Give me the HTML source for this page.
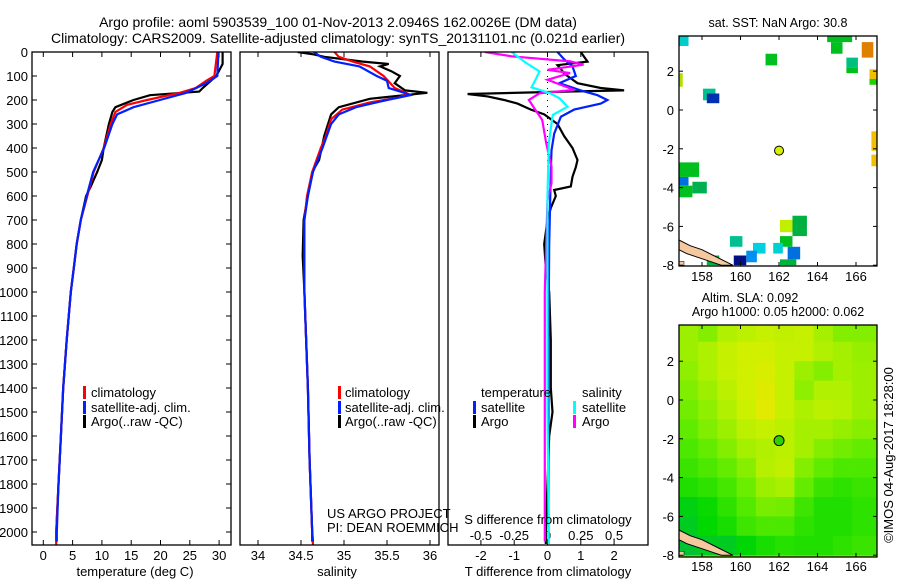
<!DOCTYPE html>
<html><head><meta charset="utf-8">
<style>
html,body{margin:0;padding:0;background:#fff;}
svg{display:block;font-family:"Liberation Sans",sans-serif;}
text{fill:#000;}
</style></head>
<body>
<svg id="fig" width="900" height="580" viewBox="0 0 900 580" xmlns="http://www.w3.org/2000/svg">
<defs>
<clipPath id="c1"><rect x="32" y="52" width="199" height="493"/></clipPath>
<clipPath id="c2"><rect x="240" y="52" width="199" height="493"/></clipPath>
<clipPath id="c3"><rect x="448" y="52" width="200" height="493"/></clipPath>
<clipPath id="cm1"><rect x="679" y="36" width="198" height="230"/></clipPath>
<clipPath id="cm2"><rect x="679" y="325" width="198" height="232"/></clipPath>
</defs>
<text x="338" y="27" font-size="14" text-anchor="middle">Argo profile: aoml 5903539_100 01-Nov-2013 2.0946S 162.0026E (DM data)</text>
<text x="338" y="43" font-size="14" text-anchor="middle">Climatology: CARS2009. Satellite-adjusted climatology: synTS_20131101.nc (0.021d earlier)</text>
<g id="g1"></g>
<g id="g2"></g>
<g id="g3"></g>
<g id="gm1"></g>
<g id="gm2"></g>
<text x="893" y="455" font-size="13" text-anchor="middle" transform="rotate(-90 893 455)">©IMOS 04-Aug-2017 18:28:00</text>
</svg>
<script>
// ---- data ----
const tempClimDepth = [0,100,120,150,170,200,220,250,300,400,500,600,700,800,900,1000,1200,1400,1600,1800,2000,2055];
const tempClimVal = [29.7,29.2,27.8,26,23.3,17.7,14.3,12.3,11.5,10.3,8.6,7.5,6.4,5.7,5.2,4.7,4.0,3.4,3.0,2.6,2.2,2.2];
const tempSatDepth = [0,100,130,170,200,230,260,300,400,500,600,700,800,900,1000,1200,1400,1600,1800,2000,2040];
const tempSatVal = [29.9,29.7,27.8,24.4,19.9,15.4,12.6,11.8,10.4,8.5,7.4,6.4,5.7,5.2,4.7,4.0,3.4,3.0,2.6,2.3,2.3];
const tempArgoDepth = [0,50,100,150,165,180,200,230,250,300,400,450,500,560,600,700,800,900,1000,1200,1400,1600,1800,2000,2040];
const tempArgoVal = [30.6,30.6,29.5,27.2,26.6,18.2,15.4,12.3,11.8,11.2,10.3,10.0,9.2,8.1,7.3,6.4,5.7,5.2,4.7,4.0,3.4,3.0,2.6,2.2,2.2];

const salClimDepth = [0,20,40,60,100,150,175,190,210,240,280,350,400,500,600,700,1000,1400,1700,2000,2055];
const salClimVal = [34.89,34.94,35.1,35.3,35.46,35.59,35.75,35.63,35.3,34.98,34.85,34.79,34.73,34.63,34.57,34.54,34.54,34.58,34.6,34.63,34.64];
const salSatDepth = [0,20,40,60,100,120,150,170,180,200,230,260,300,400,500,600,700,1000,1400,1700,2000,2040];
const salSatVal = [34.65,34.73,34.89,35.18,35.38,35.5,35.52,35.7,35.77,35.5,35.14,34.94,34.85,34.75,34.64,34.58,34.54,34.54,34.58,34.6,34.63,34.64];
const salArgoDepth = [0,10,20,40,50,60,80,100,130,160,170,180,195,230,260,350,450,500,580,700,850,1000,1400,1700,2000,2040];
const salArgoVal = [34.46,34.65,34.77,35.22,35.52,35.42,35.55,35.65,35.59,35.71,35.97,35.7,35.3,34.94,34.85,34.77,34.71,34.63,34.59,34.53,34.52,34.54,34.58,34.6,34.63,34.63];

const dTArgoDepth = [0,20,40,55,70,90,110,130,150,160,165,175,185,200,215,240,260,300,350,400,450,480,520,560,575,600,650,700,800,900,1000,1200,1400,1500,1600,1800,2000,2050];
const dTArgoVal = [1.0,1.1,1.2,0.3,0.4,0.5,0.7,0.9,1.6,2.3,0.5,-2.4,-1.8,-1.3,-0.9,-0.5,-0.1,0.3,0.5,0.75,0.9,0.85,0.75,0.7,0.2,0.25,0.1,0.0,-0.1,-0.05,0.05,0.1,0.1,0.15,0.05,0.0,-0.05,-0.05];
const dTSatDepth = [0,30,60,100,130,160,180,200,215,240,270,340,410,500,800,1200,2050];
const dTSatVal = [0.3,0.5,0.75,0.85,0.35,1.0,1.5,1.8,1.6,0.8,0.4,0.2,0.12,0.1,0.05,0.03,0.03];
const dSSatDepth = [0,46,81,116,147,172,193,228,262,297,380,600,1000,1500,2050];
const dSSatVal = [-0.27,-0.16,-0.06,-0.09,-0.12,0.02,0.09,0.15,0.04,0.03,0.01,0.0,0.0,0.0,0.01];
const dSArgoDepth = [0,18,39,53,74,88,116,158,172,200,242,283,380,477,547,617,1000,1500,2000,2040];
const dSArgoVal = [-0.47,-0.27,0.17,0.27,0.0,0.17,0.0,0.2,-0.06,-0.14,-0.09,-0.04,-0.01,0.03,0.03,0.0,-0.02,-0.02,-0.02,-0.02];

const depthTicks = [0,100,200,300,400,500,600,700,800,900,1000,1100,1200,1300,1400,1500,1600,1700,1800,1900,2000];
const tempTicks = [0,5,10,15,20,25,30];
const salTicks = [34,34.5,35,35.5,36];
const salTickLabels = ["34","34.5","35","35.5","36"];
const dTTicks = [-2,-1,0,1,2];
const dSTicks = [-0.5,-0.25,0,0.25,0.5];
const dSTickLabels = ["-0.5","-0.25","0","0.25","0.5"];

const lonTicks = [158,160,162,164,166];
const latTicks = [2,0,-2,-4,-6,-8];
const floatLon = 162.0026, floatLat = -2.0946;
const sstCellLon0 = [156.8,164.5,164.7,166.3,161.3,165.5,165.5,166.7,166.7,156.8,158.05,158.25,166.8,166.8,156.8,156.8,156.8,157.5,162.05,162.7,159.45,162.05,160.65,161.7,162.45,160.3,159.65,158.25,162.05];
const sstCellLat0 = [3.8,3.8,3.5,3.5,2.9,2.7,2.2,2.1,1.6,1.9,1.1,0.85,-1.1,-2.3,-2.7,-3.45,-3.9,-3.7,-5.67,-5.45,-6.5,-6.5,-6.85,-6.85,-7.05,-7.25,-7.5,-7.5,-7.7];
const sstCellLon1 = [157.3,165.8,165.3,166.9,161.9,166.1,166.1,167.1,167.1,157.0,158.7,158.9,167.1,167.1,157.85,157.3,157.5,158.25,162.7,163.45,160.1,162.7,161.3,162.2,163.1,160.85,160.3,158.9,162.9];
const sstCellLat1 = [3.3,3.5,2.9,2.7,2.3,2.2,1.9,1.6,1.3,1.2,0.5,0.35,-2.1,-2.9,-3.45,-3.9,-4.5,-4.3,-6.3,-6.5,-7.05,-7.05,-7.4,-7.4,-7.7,-7.85,-8,-8,-8];
const sstCellColor = ["#00cccc","#00c020","#00c020","#e08000","#00c020","#00c080","#00c020","#f0c000","#20d000","#b0e000","#00c090","#0030b0","#f0c000","#f0c000","#00c020","#0070e0","#00c020","#00b050","#c0f000","#00b040","#00c090","#00c020","#00d0e0","#00d0d0","#0070e0","#0090f0","#001080","#00b040","#00b040"];
const slaLats = [3.5,2.5,1.5,0.5,-0.5,-1.5,-2.5,-3.5,-4.5,-5.5,-6.5,-7.5];
const slaLons = [157.3,158.3,159.3,160.3,161.3,162.3,163.3,164.3,165.3,166.3];
const slaRow0 = [0.72,0.65,0.78,0.82,0.86,0.84,0.86,0.74,0.65,0.65];
const slaRow1 = [0.72,0.77,0.86,0.9,0.9,0.86,0.86,0.78,0.74,0.7];
const slaRow2 = [0.68,0.77,0.86,0.9,0.93,0.86,0.72,0.65,0.74,0.72];
const slaRow3 = [0.64,0.72,0.82,0.9,0.96,0.86,0.68,0.78,0.78,0.72];
const slaRow4 = [0.6,0.68,0.78,0.88,0.97,0.86,0.77,0.82,0.8,0.72];
const slaRow5 = [0.55,0.64,0.72,0.82,0.86,0.82,0.74,0.74,0.7,0.66];
const slaRow6 = [0.5,0.56,0.65,0.74,0.78,0.82,0.74,0.65,0.6,0.56];
const slaRow7 = [0.45,0.5,0.56,0.66,0.8,0.84,0.65,0.55,0.5,0.5];
const slaRow8 = [0.38,0.42,0.48,0.58,0.72,0.75,0.56,0.45,0.42,0.45];
const slaRow9 = [0.25,0.32,0.42,0.52,0.62,0.6,0.46,0.38,0.38,0.42];
const slaRow10 = [0.2,0.3,0.36,0.46,0.5,0.5,0.42,0.38,0.38,0.42];
const slaRow11 = [0.15,0.2,0.2,0.28,0.36,0.4,0.38,0.38,0.42,0.45];

// ---- helpers ----
const NS = "http://www.w3.org/2000/svg";
function mk(tag, attrs, parent){
  const e = document.createElementNS(NS, tag);
  for (const k in attrs) e.setAttribute(k, attrs[k]);
  parent.appendChild(e);
  return e;
}
const yD = d => 52 + d*0.24;
const xT = t => 43.3 + t*5.86;
const xS = s => 258 + (s-34)*86;
const xDT = v => 547.5 + v*33.3;
const xDS = v => 547.5 + v*133.2;
const mLonX = lon => 702 + (lon-158)*19.25;
const m1LatY = lat => 110 - lat*19.4;
const m2LatY = lat => 400 - lat*19.4;

function frame(g, x, y, w, h, name){
  const r = mk("rect", {x:x, y:y, width:w, height:h, fill:"none", stroke:"#000", "stroke-width":1.3}, g);
  
  
}
function profile(g, depths, vals, xf, color, w, clip, name){
  const pts = depths.map((d,i)=> xf(vals[i]).toFixed(1)+","+yD(d).toFixed(1)).join(" ");
  const p = mk("polyline", {points:pts, fill:"none", stroke:color, "stroke-width":w, "stroke-linejoin":"miter", "clip-path":"url(#"+clip+")"}, g);
  
  
}
function txt(g, x, y, s, size, anchor, name){
  const t = mk("text", {x:x, y:y, "font-size":size, "text-anchor":anchor||"start"}, g);
  t.textContent = s;
  
  
  return t;
}
function tick(g, x1, y1, x2, y2){
  const l = mk("line", {x1:x1, y1:y1, x2:x2, y2:y2, stroke:"#000", "stroke-width":1}, g);
  
  
}
function legBar(g, x, y, color){
  const r = mk("rect", {x:x, y:y-11, width:3, height:13, fill:color}, g);
  
  
}

// ---- panel 1: temperature ----
const g1 = document.getElementById("g1");
depthTicks.forEach(d => {
  tick(g1, 32, yD(d), 37, yD(d)); tick(g1, 226, yD(d), 231, yD(d));
  txt(g1, 28, yD(d)+5, String(d), 13, "end", "depth-tick-label");
});
tempTicks.forEach(t => {
  tick(g1, xT(t), 545, xT(t), 540); tick(g1, xT(t), 52, xT(t), 57);
  txt(g1, xT(t), 560, String(t), 13, "middle", "temperature-tick-label");
});
profile(g1, tempArgoDepth, tempArgoVal, xT, "#000", 2.2, "c1", "temperature-argo-line");
profile(g1, tempClimDepth, tempClimVal, xT, "#f00", 2.2, "c1", "temperature-climatology-line");
profile(g1, tempSatDepth, tempSatVal, xT, "#0020ff", 2.2, "c1", "temperature-satellite-line");
frame(g1, 32, 52, 199, 493, "temperature-plot-frame");
txt(g1, 135, 576, "temperature (deg C)", 13, "middle", "x-axis-title-temperature");
legBar(g1, 83, 397, "#f00"); txt(g1, 91, 397, "climatology", 13, "start", "legend-entry-climatology");
legBar(g1, 83, 412, "#0020ff"); txt(g1, 91, 412, "satellite-adj. clim.", 13, "start", "legend-entry-satellite");
legBar(g1, 83, 426, "#000"); txt(g1, 91, 426, "Argo(..raw -QC)", 13, "start", "legend-entry-argo");

// ---- panel 2: salinity ----
const g2 = document.getElementById("g2");
salTicks.forEach((s,i) => {
  tick(g2, xS(s), 545, xS(s), 540); tick(g2, xS(s), 52, xS(s), 57);
  txt(g2, xS(s), 560, salTickLabels[i], 13, "middle", "salinity-tick-label");
});
profile(g2, salArgoDepth, salArgoVal, xS, "#000", 2.2, "c2", "salinity-argo-line");
profile(g2, salClimDepth, salClimVal, xS, "#f00", 2.2, "c2", "salinity-climatology-line");
profile(g2, salSatDepth, salSatVal, xS, "#0020ff", 2.2, "c2", "salinity-satellite-line");
frame(g2, 240, 52, 199, 493, "salinity-plot-frame");
txt(g2, 337, 576, "salinity", 13, "middle", "x-axis-title-salinity");
legBar(g2, 338, 397, "#f00"); txt(g2, 345, 397, "climatology", 13, "start", "legend-entry-climatology");
legBar(g2, 338, 412, "#0020ff"); txt(g2, 345, 412, "satellite-adj. clim.", 13, "start", "legend-entry-satellite");
legBar(g2, 338, 426, "#000"); txt(g2, 345, 426, "Argo(..raw -QC)", 13, "start", "legend-entry-argo");
txt(g2, 327, 518, "US ARGO PROJECT", 13, "start", "project-label");
txt(g2, 327, 532, "PI: DEAN ROEMMICH", 13, "start", "pi-label");

// ---- panel 3: differences ----
const g3 = document.getElementById("g3");
const zl = mk("line", {x1:xDT(0), y1:52, x2:xDT(0), y2:yD(1000), stroke:"#000", "stroke-width":1, "stroke-dasharray":"1 5"}, g3);


dTTicks.forEach(v => {
  tick(g3, xDT(v), 545, xDT(v), 540); tick(g3, xDT(v), 52, xDT(v), 57);
  txt(g3, xDT(v), 560, String(v), 13, "middle", "t-difference-tick-label");
});
dSTicks.forEach((v,i) => {
  txt(g3, xDS(v), 540, dSTickLabels[i], 13, "middle", "s-difference-tick-label");
});
profile(g3, dTArgoDepth, dTArgoVal, xDT, "#000", 2.2, "c3", "t-diff-argo-line");
profile(g3, dTSatDepth, dTSatVal, xDT, "#0020ff", 2.2, "c3", "t-diff-satellite-line");
profile(g3, dSArgoDepth, dSArgoVal, xDS, "#ff00ff", 2.2, "c3", "s-diff-argo-line");
profile(g3, dSSatDepth, dSSatVal, xDS, "#00ffff", 2.2, "c3", "s-diff-satellite-line");
frame(g3, 448, 52, 200, 493, "difference-plot-frame");
txt(g3, 548, 524, "S difference from climatology", 13, "middle", "s-difference-axis-title");
txt(g3, 548, 576, "T difference from climatology", 13, "middle", "t-difference-axis-title");
txt(g3, 481, 397, "temperature", 13, "start", "legend-heading-temperature");
txt(g3, 582, 397, "salinity", 13, "start", "legend-heading-salinity");
legBar(g3, 473, 412, "#0020ff"); txt(g3, 481, 412, "satellite", 13, "start", "legend-entry-t-satellite");
legBar(g3, 473, 426, "#000"); txt(g3, 481, 426, "Argo", 13, "start", "legend-entry-t-argo");
legBar(g3, 573, 412, "#00ffff"); txt(g3, 582, 412, "satellite", 13, "start", "legend-entry-s-satellite");
legBar(g3, 573, 426, "#ff00ff"); txt(g3, 582, 426, "Argo", 13, "start", "legend-entry-s-argo");

// ---- map 1: SST ----
const gm1 = document.getElementById("gm1");
const cells1 = mk("g", {"clip-path":"url(#cm1)"}, gm1);
sstCellLon0.forEach((lon0,i) => {
  const x0 = mLonX(lon0), x1 = mLonX(sstCellLon1[i]);
  const y0 = m1LatY(sstCellLat0[i]), y1 = m1LatY(sstCellLat1[i]);
  const r = mk("rect", {x:x0, y:y0, width:x1-x0, height:y1-y0, fill:sstCellColor[i]}, cells1);
  
  
});
function coast(g, yf){
  const pts = [[156.8,-6.7],[157.4,-7.0],[158.0,-7.2],[158.6,-7.5],[159.2,-7.8],[159.6,-8.0],[159.0,-8.0],[158.4,-7.8],[157.8,-7.6],[157.2,-7.4],[156.8,-7.2]];
  const p = mk("polygon", {points:pts.map(q=>mLonX(q[0])+","+yf(q[1])).join(" "), fill:"#f5c8a0", stroke:"#000", "stroke-width":1}, g);
  
  
  const s = mk("rect", {x:679, y:yf(-7.8), width:5, height:4, fill:"#f5c8a0", stroke:"#000", "stroke-width":0.5}, g);
  
  
}
coast(cells1, m1LatY);
const mk1 = mk("circle", {cx:mLonX(floatLon), cy:m1LatY(floatLat), r:4.5, fill:"#d8f000", stroke:"#000", "stroke-width":1}, gm1);


frame(gm1, 679, 36, 198, 230, "sst-map-frame");
txt(gm1, 778, 27, "sat. SST: NaN Argo: 30.8", 12.5, "middle", "sst-map-title");

// ---- map 2: SLA ----
const gm2 = document.getElementById("gm2");
const slaRows = [slaRow0,slaRow1,slaRow2,slaRow3,slaRow4,slaRow5,slaRow6,slaRow7,slaRow8,slaRow9,slaRow10,slaRow11];
function slaColor(v){
  const stops = [[0,[0,176,96]],[0.3,[0,216,0]],[0.55,[96,236,0]],[0.75,[168,240,0]],[0.9,[208,240,0]],[1,[232,232,0]]];
  for (let i=1;i<stops.length;i++){
    if (v<=stops[i][0]){
      const a=stops[i-1], b=stops[i], f=(v-a[0])/(b[0]-a[0]);
      return "rgb("+a[1].map((c,k)=>Math.round(c+(b[1][k]-c)*f)).join(",")+")";
    }
  }
  return "rgb(232,232,0)";
}
const cells2 = mk("g", {"clip-path":"url(#cm2)"}, gm2);
const bg = mk("rect", {x:679, y:325, width:198, height:232, fill:"#80ee00"}, cells2);


slaRows.forEach((row,ri) => {
  row.forEach((v,ci) => {
    const x0 = mLonX(slaLons[ci]-0.5), y0 = m2LatY(slaLats[ri]+0.5);
    const w = ci===row.length-1 ? 40 : 19.5;
    const h = ri===0 ? 40 : 19.6;
    const yy = ri===0 ? y0-20 : y0;
    const r = mk("rect", {x:x0, y:yy, width:w, height:h, fill:slaColor(v)}, cells2);
    
    
  });
});
coast(cells2, m2LatY);
const mk2 = mk("circle", {cx:mLonX(floatLon), cy:m2LatY(floatLat), r:5, fill:"#30d000", stroke:"#000", "stroke-width":1}, gm2);


frame(gm2, 679, 325, 198, 232, "sla-map-frame");
txt(gm2, 750, 302, "Altim. SLA: 0.092", 12.5, "middle", "sla-map-title");
txt(gm2, 778, 316, "Argo h1000: 0.05 h2000: 0.062", 12.5, "middle", "sla-map-subtitle");

[[gm1, m1LatY, 36, 266, 281],[gm2, m2LatY, 325, 557, 571]].forEach(([g, yf, top, bot, ly]) => {
  lonTicks.forEach(l => {
    tick(g, mLonX(l), bot, mLonX(l), bot-4); tick(g, mLonX(l), top, mLonX(l), top+4);
    txt(g, mLonX(l), ly, String(l), 13, "middle", "longitude-tick-label");
  });
  latTicks.forEach(l => {
    tick(g, 679, yf(l), 683, yf(l)); tick(g, 877, yf(l), 873, yf(l));
    txt(g, 674, yf(l)+5, String(l), 13, "end", "latitude-tick-label");
  });
});
</script>
</body></html>
